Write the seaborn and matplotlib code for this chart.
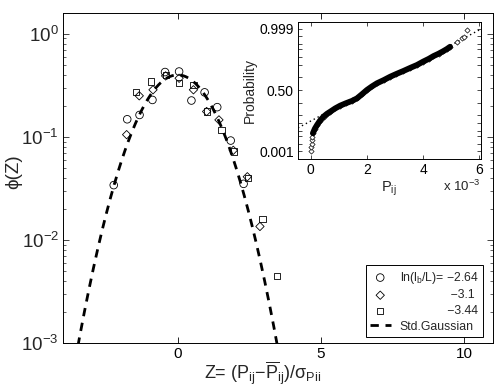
import numpy as np
import pandas as pd
import matplotlib
matplotlib.use("Agg")
import matplotlib.pyplot as plt
import seaborn as sns
from matplotlib.ticker import FixedLocator, NullFormatter, LogLocator

sns.set_theme(style="white")
plt.rcParams["font.family"] = ["Liberation Sans", "DejaVu Sans"]
plt.rcParams["mathtext.fontset"] = "custom"
plt.rcParams["mathtext.rm"] = "Liberation Sans"
plt.rcParams["mathtext.it"] = "Liberation Sans"
plt.rcParams["mathtext.bf"] = "Liberation Sans:bold"
plt.rcParams["axes.unicode_minus"] = True

# ---------------- data ----------------
# ln(l_b/L) = -2.64 (circles)
z_c = [-2.23, -1.76, -1.33, -0.88, -0.44, 0.05, 0.48, 0.94, 1.38, 1.85, 2.30]
p_c = [0.034, 0.148, 0.163, 0.228, 0.425, 0.43, 0.225, 0.27, 0.194, 0.092, 0.035]
# ln(l_b/L) = -3.1 (diamonds)
z_d = [-1.78, -1.34, -0.86, -0.42, 0.05, 0.55, 1.01, 1.44, 1.94, 2.43, 2.87]
p_d = [0.105, 0.25, 0.286, 0.39, 0.37, 0.286, 0.176, 0.146, 0.074, 0.041, 0.0135]
# ln(l_b/L) = -3.44 (squares)
z_s = [-1.45, -0.93, -0.42, 0.05, 0.55, 1.01, 1.53, 1.97, 2.45, 2.96, 3.46]
p_s = [0.274, 0.344, 0.40, 0.33, 0.32, 0.176, 0.117, 0.072, 0.040, 0.0159, 0.0045]

legend_labels = ["ln(l$_b$/L)= \u22122.64",
                 " " * 15 + "\u22123.1",
                 " " * 14 + "\u22123.44",
                 "Std.Gaussian"]

# inset: normal probability plot of P_ij (in units of 1e-3) vs normal quantile
inset_P = [0.02, 0.03, 0.04, 0.05, 0.06, 0.08, 0.15, 0.23, 0.33, 0.46, 0.58, 0.70,
           0.87, 1.05, 1.25, 1.47, 1.65, 1.82, 2.00, 2.18, 2.36, 2.60, 2.83, 3.05,
           3.30, 3.55, 3.78, 4.00, 4.20, 4.37, 4.55, 4.72, 4.85, 4.96, 5.20, 5.37,
           5.45, 5.57]
inset_q = [-3.07, -2.86, -2.70, -2.52, -2.38, -2.18, -1.95, -1.76, -1.55, -1.34, -1.20, -1.09,
           -0.93, -0.79, -0.67, -0.55, -0.42, -0.22, 0.00, 0.18, 0.34, 0.50, 0.67, 0.81,
           0.96, 1.12, 1.26, 1.43, 1.57, 1.71, 1.83, 1.96, 2.07, 2.18, 2.43, 2.60,
           2.66, 3.02]
ref_mean = 2.045   # reference line of the normal probability plot (1e-3 units)
ref_std = 1.305
prob_ticks = [0.001, 0.003, 0.01, 0.02, 0.05, 0.10, 0.25, 0.50, 0.75, 0.90, 0.95, 0.98, 0.99, 0.997, 0.999]
prob_ticks_q = [-3.090, -2.748, -2.326, -2.054, -1.645, -1.282, -0.674, 0.0, 0.674, 1.282, 1.645, 2.054, 2.326, 2.748, 3.090]
prob_labels = {0.001: "0.001", 0.50: "0.50", 0.999: "0.999"}

# ---------------- figure ----------------
W, H = 498, 389
fig = plt.figure(figsize=(W / 100, H / 100), dpi=100)
fig.patch.set_facecolor("white")

def box(l, t, r, b):
    return [l / W, 1 - b / H, (r - l) / W, (b - t) / H]

ax = fig.add_axes(box(63, 12.7, 493, 343))
ax.set_facecolor("white")

df_c = pd.DataFrame({"z": z_c, "p": p_c})
df_d = pd.DataFrame({"z": z_d, "p": p_d})
df_s = pd.DataFrame({"z": z_s, "p": p_s})

sns.scatterplot(data=df_c, x="z", y="p", marker="o", s=30, facecolor="none",
                edgecolor="black", linewidth=0.6, ax=ax, label=legend_labels[0], zorder=3)
sns.scatterplot(data=df_d, x="z", y="p", marker="D", s=18, facecolor="none",
                edgecolor="black", linewidth=0.6, ax=ax, label=legend_labels[1], zorder=3)
sns.scatterplot(data=df_s, x="z", y="p", marker="s", s=20, facecolor="none",
                edgecolor="black", linewidth=0.6, ax=ax, label=legend_labels[2], zorder=3)

zg = np.linspace(-4.0, 4.0, 400)
df_g = pd.DataFrame({"z": zg, "phi": np.exp(-zg ** 2 / 2) / np.sqrt(2 * np.pi)})
sns.lineplot(data=df_g, x="z", y="phi", color="black", linewidth=2.0, ax=ax,
             dashes=False, label=legend_labels[3], zorder=2)
ax.lines[-1].set_dashes((3, 2.4))

ax.set_yscale("log")
ax.set_xlim(-4, 11)
ax.set_ylim(1e-3, 1.6)
ax.set_xticks([0, 5, 10])
ax.set_xticklabels(["0", "5", "10"])
ax.yaxis.set_major_locator(FixedLocator([1e-3, 1e-2, 1e-1, 1e0]))
ax.yaxis.set_minor_locator(LogLocator(base=10, subs=np.arange(2, 10)))
ax.yaxis.set_minor_formatter(NullFormatter())
ax.tick_params(axis="x", which="both", direction="in", top=True, bottom=True,
               length=4, width=0.6, labelsize=11, pad=3, colors="black")
ax.tick_params(axis="y", which="major", direction="in", left=True, right=True,
               length=4, width=0.6, labelsize=13.5, pad=3)
ax.tick_params(axis="y", which="minor", direction="in", left=True, right=True,
               length=2, width=0.5)
for sp in ax.spines.values():
    sp.set_visible(True)
    sp.set_color("black")
    sp.set_linewidth(0.7)

ax.set_xlabel("Z= (P$_{ij}$\u2212$\\overline{\\mathrm{P}}_{ij}$)/\u03c3$_{Pii}$",
              fontsize=13)
ax.xaxis.set_label_coords(0.465, -0.05)
ax.set_ylabel("\u03d5(Z)", fontsize=13.5)
ax.yaxis.set_label_coords(-0.095, 0.518)

leg = ax.legend(loc="lower right", bbox_to_anchor=(0.977, 0.018), borderaxespad=0,
                fontsize=8.8, frameon=True, fancybox=False, framealpha=1,
                edgecolor="black", handlelength=1.7, handletextpad=0.75,
                labelspacing=0.3, borderpad=0.35)
leg.get_frame().set_linewidth(0.7)

# ---------------- inset ----------------
axi = fig.add_axes(box(298, 22, 480.7, 159))
axi.set_facecolor("white")
df_i = pd.DataFrame({"P": inset_P, "q": inset_q})
band = df_i[(df_i["q"] > -2.3) & (df_i["q"] < 2.25)]
sns.lineplot(data=band, x="P", y="q", color="black", linewidth=4.2, sort=False,
             ax=axi, zorder=2)
sns.scatterplot(data=df_i, x="P", y="q", marker="D", s=7, facecolor="white",
                edgecolor="black", linewidth=0.5, ax=axi, zorder=3)
xl = np.array([-0.45, 6.05])
df_ref = pd.DataFrame({"P": xl, "q": (xl - ref_mean) / ref_std})
sns.lineplot(data=df_ref, x="P", y="q", color="black", linewidth=1.0, ax=axi, zorder=1)
axi.lines[-1].set_linestyle((0, (1, 2.2)))
axi.lines[0].set_zorder(4)

axi.set_xlim(-0.45, 6.05)
axi.set_ylim(-3.48, 3.43)
axi.set_xticks([0, 2, 4, 6])
axi.set_xticklabels(["0", "2", "4", "6"])
axi.set_yticks(prob_ticks_q)
axi.set_yticklabels([prob_labels.get(p, "") for p in prob_ticks])
axi.tick_params(axis="both", direction="in", top=True, right=True, bottom=True, left=True,
                length=3, width=0.5, labelsize=10, pad=3, colors="black")
for sp in axi.spines.values():
    sp.set_visible(True)
    sp.set_color("black")
    sp.set_linewidth(0.7)
axi.set_xlabel("P$_{ij}$", fontsize=10.5, labelpad=2)
axi.set_ylabel("Probability", fontsize=10, labelpad=2)
axi.text(1.0, -0.145, "x 10$^{-3}$", transform=axi.transAxes, ha="right", va="top",
         fontsize=9.5)

fig.savefig("out.png", dpi=100, facecolor="white")
